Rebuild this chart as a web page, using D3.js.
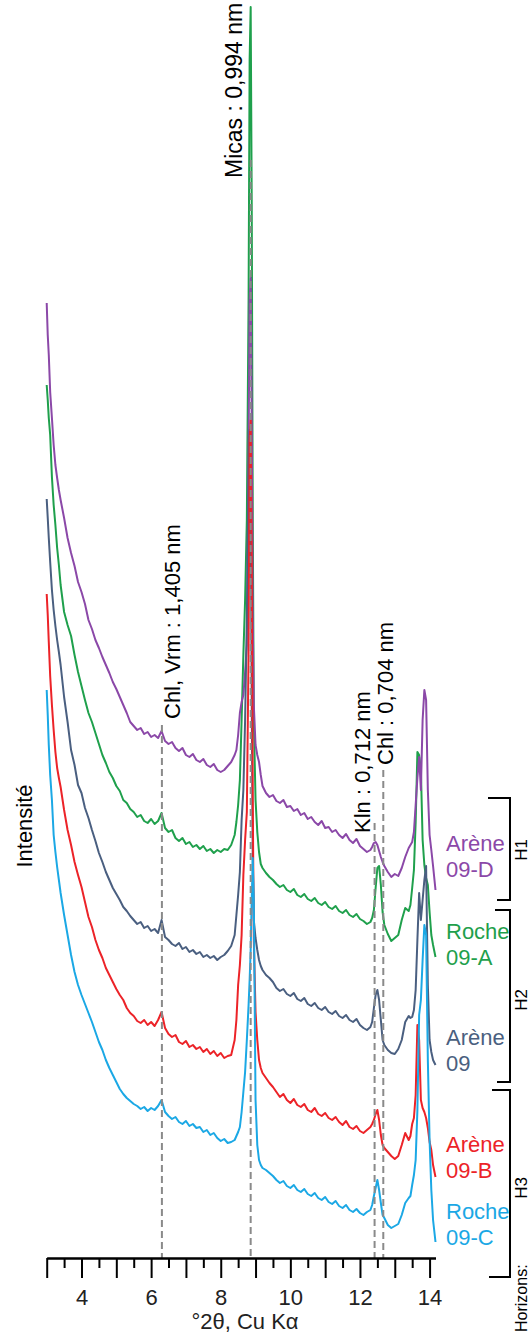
<!DOCTYPE html>
<html><head><meta charset="utf-8">
<script src="https://cdn.jsdelivr.net/npm/d3@7"></script>
<style>html,body{margin:0;padding:0;background:#fff;} svg{display:block;font-family:"Liberation Sans",Arial,sans-serif;}</style>
</head><body>
<svg id="chart" width="532" height="1335"></svg>
<script>
// ---- data ----
const twoTheta = [3.00,3.03,3.06,3.10,3.15,3.20,3.25,3.30,3.35,3.40,3.5,3.6,3.7,3.8,3.9,4.0,4.1,4.2,4.3,4.4,4.5,4.6,4.7,4.8,4.9,5.0,5.1,5.2,5.3,5.4,5.5,5.6,5.7,5.8,5.9,6.0,6.1,6.2,6.3,6.4,6.5,6.6,6.7,6.8,6.9,7.0,7.1,7.2,7.3,7.4,7.5,7.6,7.7,7.8,7.9,8.0,8.1,8.2,8.3,8.4,8.45,8.5,8.55,8.6,8.65,8.7,8.75,8.8,8.83,8.86,8.89,8.92,8.95,9.0,9.05,9.1,9.15,9.2,9.3,9.4,9.5,9.6,9.7,9.8,9.9,10.0,10.1,10.2,10.3,10.4,10.5,10.6,10.7,10.8,10.9,11.0,11.1,11.2,11.3,11.4,11.5,11.6,11.7,11.8,11.9,12.0,12.1,12.2,12.3,12.35,12.4,12.45,12.5,12.55,12.6,12.65,12.7,12.8,12.9,13.0,13.1,13.2,13.3,13.4,13.45,13.5,13.55,13.6,13.65,13.7,13.75,13.8,13.85,13.9,13.95,14.0,14.05,14.1,14.17];

const arene09D = [954,922,902,865,839,812,792,779,767,757,
739,719,704,691,675,665,653,637,628,617,
609,600,592,584,575,568,560,552,544,535,
531,527,529,523,525,520,522,519,526,516,
513,515,509,506,509,502,500,503,497,495,
498,492,490,493,487,485,487,491,495,502,
507,522,544,555,562,585,612,807,957,979,
837,637,552,512,502,495,482,471,
464,460,462,456,454,457,450,451,446,448,442,444,438,440,435,432,436,429,430,425,427,422,419,423,417,414,418,411,408,405,407,
410,414,415,412,406,400,395,391,
385,380,383,381,389,400,409,
412,415,425,452,479,500,467,537,567,557,467,422,407,391,
367];

const roche09A = [872,857,839,822,780,752,732,709,692,672,
645,632,621,602,585,571,557,544,535,524,
513,502,494,485,479,471,466,457,454,448,
445,440,442,436,434,438,433,436,444,429,
425,427,419,416,419,413,415,410,412,408,
411,406,408,404,407,405,408,407,412,422,
435,452,477,537,602,657,737,957,1197,1250,
1057,737,537,457,425,405,393,389,
384,380,377,373,370,372,367,365,368,362,360,363,358,356,359,354,352,355,350,348,351,346,344,347,342,340,343,338,336,333,335,
339,347,369,389,391,372,345,332,
323,316,319,322,337,349,346,
352,369,387,435,505,502,487,417,392,379,372,345,322,312,
300];

const arene09 = [758,739,719,695,667,647,631,617,605,592,
560,535,507,492,472,464,449,439,427,416,
404,395,385,377,369,363,357,350,346,341,
337,333,335,329,331,326,328,324,337,320,
317,313,311,314,308,310,305,307,303,305,
300,302,299,301,297,300,302,306,311,322,
342,362,385,437,467,537,637,777,827,757,
557,397,337,319,307,297,291,287,
282,279,275,269,266,268,263,261,264,258,256,259,253,251,254,249,247,250,245,243,246,241,239,242,237,235,238,232,229,227,230,
235,249,262,267,257,237,217,212,
207,204,203,208,217,235,241,
239,240,247,267,317,364,337,357,377,391,272,217,205,197,
192];

const arene09B = [663,642,615,581,552,527,505,489,479,470,
447,427,412,395,382,370,355,340,330,317,
307,299,289,282,275,268,262,257,249,244,
241,236,234,237,232,235,231,237,245,229,
223,220,222,215,213,216,210,212,208,210,
205,208,203,206,201,204,199,201,202,217,
237,272,292,322,382,417,445,607,817,837,
697,457,317,245,217,197,189,184,
179,174,170,165,160,163,157,154,158,152,150,153,147,145,149,143,141,144,139,137,140,135,132,136,130,128,131,126,124,127,130,
133,137,143,147,137,122,112,109,
105,101,98,101,112,124,117,
121,133,139,162,232,217,157,149,145,139,129,115,107,92,
80];

const roche09C = [567,542,512,482,457,422,405,390,377,364,
342,322,302,285,272,262,253,244,235,225,
215,207,197,189,182,175,168,163,159,156,
153,151,148,150,146,149,147,151,157,145,
141,138,140,135,133,136,131,133,129,130,
125,127,122,124,119,116,118,114,115,117,
121,125,130,145,165,185,217,252,277,307,
357,399,357,157,112,97,92,89,
87,84,81,77,74,76,71,69,72,67,65,68,63,61,64,59,57,60,55,53,56,51,49,52,47,45,48,44,42,45,47,
52,61,69,77,67,54,42,39,
32,29,31,33,42,54,59,
61,72,82,97,147,242,257,297,332,322,197,117,67,37,
15];

const seriesNames = ["Arène 09-D", "Roche 09-A", "Arène 09", "Arène 09-B", "Roche 09-C"];
const xTickLabels = [4, 6, 8, 10, 12, 14];
const refPeaks = [6.31, 8.86, 12.42, 12.67];
const refLabels = ["Chl, Vrm : 1,405 nm", "Micas : 0,994 nm", "Kln : 0,712 nm", "Chl : 0,704 nm"];
const refTopIntensity = [532, 1097, 434, 487];
const horizonNames = ["H1", "H2", "H3"];
const xTitle = "°2θ, Cu Kα";
const yTitle = "Intensité";

// ---- layout / style ----
const W = 532, H = 1335;
const FONT = '"Liberation Sans", Arial, sans-serif';
const svg = d3.select("#chart");
svg.append("rect").attr("width", W).attr("height", H).attr("fill", "#fff");

const x = d3.scaleLinear().domain([3, 14.17]).range([46.7, 435.5]);
const y = d3.scaleLinear().domain([0, 1250]).range([1257, 7]);
const axisY = 1258;

const valuesByName = {
  "Arène 09-D": arene09D, "Roche 09-A": roche09A, "Arène 09": arene09,
  "Arène 09-B": arene09B, "Roche 09-C": roche09C
};
const colors = {
  "Arène 09-D": "#8b48a8", "Roche 09-A": "#1fa04c", "Arène 09": "#4a5f80",
  "Arène 09-B": "#ec2328", "Roche 09-C": "#1ba8e5"
};
const labelBaseline = {
  "Arène 09-D": 851, "Roche 09-A": 939, "Arène 09": 1045,
  "Arène 09-B": 1152, "Roche 09-C": 1219
};
const drawOrder = ["Roche 09-A", "Arène 09-D", "Arène 09", "Arène 09-B", "Roche 09-C"];

const line = d3.line().x((d, i) => x(twoTheta[i])).y(d => y(d)).curve(d3.curveLinear);

const gLines = svg.append("g");
drawOrder.forEach(name => {
  gLines.append("path")
    .datum(valuesByName[name])
    .attr("d", line)
    .attr("fill", "none")
    .attr("stroke", colors[name])
    .attr("stroke-width", 2)
    .attr("stroke-linejoin", "round");
});

// reference dashed lines
const gRef = svg.append("g");
refPeaks.forEach((p, i) => {
  gRef.append("line")
    .attr("x1", x(p)).attr("x2", x(p))
    .attr("y1", y(refTopIntensity[i])).attr("y2", axisY)
    .attr("stroke", "#8a8a8a").attr("stroke-width", 2)
    .attr("stroke-dasharray", "7,4");
});

// reference labels (rotated)
const refLabelPos = [
  {dx: 18, y: 719, size: 22},
  {dx: -9, y: 178, size: 23},
  {dx: -5, y: 833, size: 22},
  {dx: 10, y: 765, size: 22}
];
refLabels.forEach((t, i) => {
  const px = x(refPeaks[i]) + refLabelPos[i].dx;
  svg.append("text")
    .attr("transform", `translate(${px},${refLabelPos[i].y}) rotate(-90)`)
    .attr("font-family", FONT).attr("font-size", refLabelPos[i].size)
    .attr("fill", "#000").attr("text-anchor", "start")
    .text(t);
});

// x axis
const gMinor = svg.append("g").attr("transform", `translate(0,${axisY})`)
  .call(d3.axisBottom(x).tickValues(d3.range(3.5, 13.6, 1)).tickSize(10).tickSizeOuter(0).tickFormat(""));
const gMajor = svg.append("g").attr("transform", `translate(0,${axisY})`)
  .call(d3.axisBottom(x).tickValues(d3.range(3, 14.01, 1)).tickSize(20).tickSizeOuter(0).tickPadding(11)
    .tickFormat(d => xTickLabels.includes(d) ? d : ""));
[gMinor, gMajor].forEach(g => {
  g.select(".domain").attr("stroke", "#000").attr("stroke-width", 2);
  g.selectAll(".tick line").attr("stroke", "#000").attr("stroke-width", 2);
  g.selectAll(".tick text").attr("font-family", FONT).attr("font-size", 22).attr("fill", "#222");
});

svg.append("text")
  .attr("x", 245).attr("y", 1329)
  .attr("text-anchor", "middle")
  .attr("font-family", FONT).attr("font-size", 22).attr("fill", "#222")
  .text(xTitle);

svg.append("text")
  .attr("transform", "translate(32,826) rotate(-90)")
  .attr("text-anchor", "middle")
  .attr("font-family", FONT).attr("font-size", 22).attr("fill", "#000")
  .text(yTitle);

// series labels
seriesNames.forEach(name => {
  const parts = name.split(" ");
  const t = svg.append("text")
    .attr("font-family", FONT).attr("font-size", 22)
    .attr("fill", colors[name]);
  t.append("tspan").attr("x", 446).attr("y", labelBaseline[name]).text(parts[0]);
  t.append("tspan").attr("x", 446).attr("y", labelBaseline[name] + 26).text(parts[1]);
});

// horizon brackets
const brackets = [
  {top: 798, bottom: 900, left1: 488, left2: 497, ly: 850},
  {top: 910, bottom: 1082, left1: 495, left2: 497, ly: 1000},
  {top: 1090, bottom: 1277, left1: 492, left2: 489, ly: 1188}
];
const bx = 510;
horizonNames.forEach((h, i) => {
  const b = brackets[i];
  svg.append("path")
    .attr("d", `M${b.left1},${b.top}H${bx}V${b.bottom}H${b.left2}`)
    .attr("fill", "none").attr("stroke", "#000").attr("stroke-width", 2);
  svg.append("text")
    .attr("transform", `translate(527,${b.ly}) rotate(-90)`)
    .attr("text-anchor", "middle")
    .attr("font-family", FONT).attr("font-size", 17).attr("fill", "#000")
    .text(h);
});
svg.append("text")
  .attr("transform", "translate(527,1332) rotate(-90)")
  .attr("text-anchor", "start")
  .attr("font-family", FONT).attr("font-size", 16).attr("fill", "#000")
  .text("Horizons:");
</script>
</body></html>
